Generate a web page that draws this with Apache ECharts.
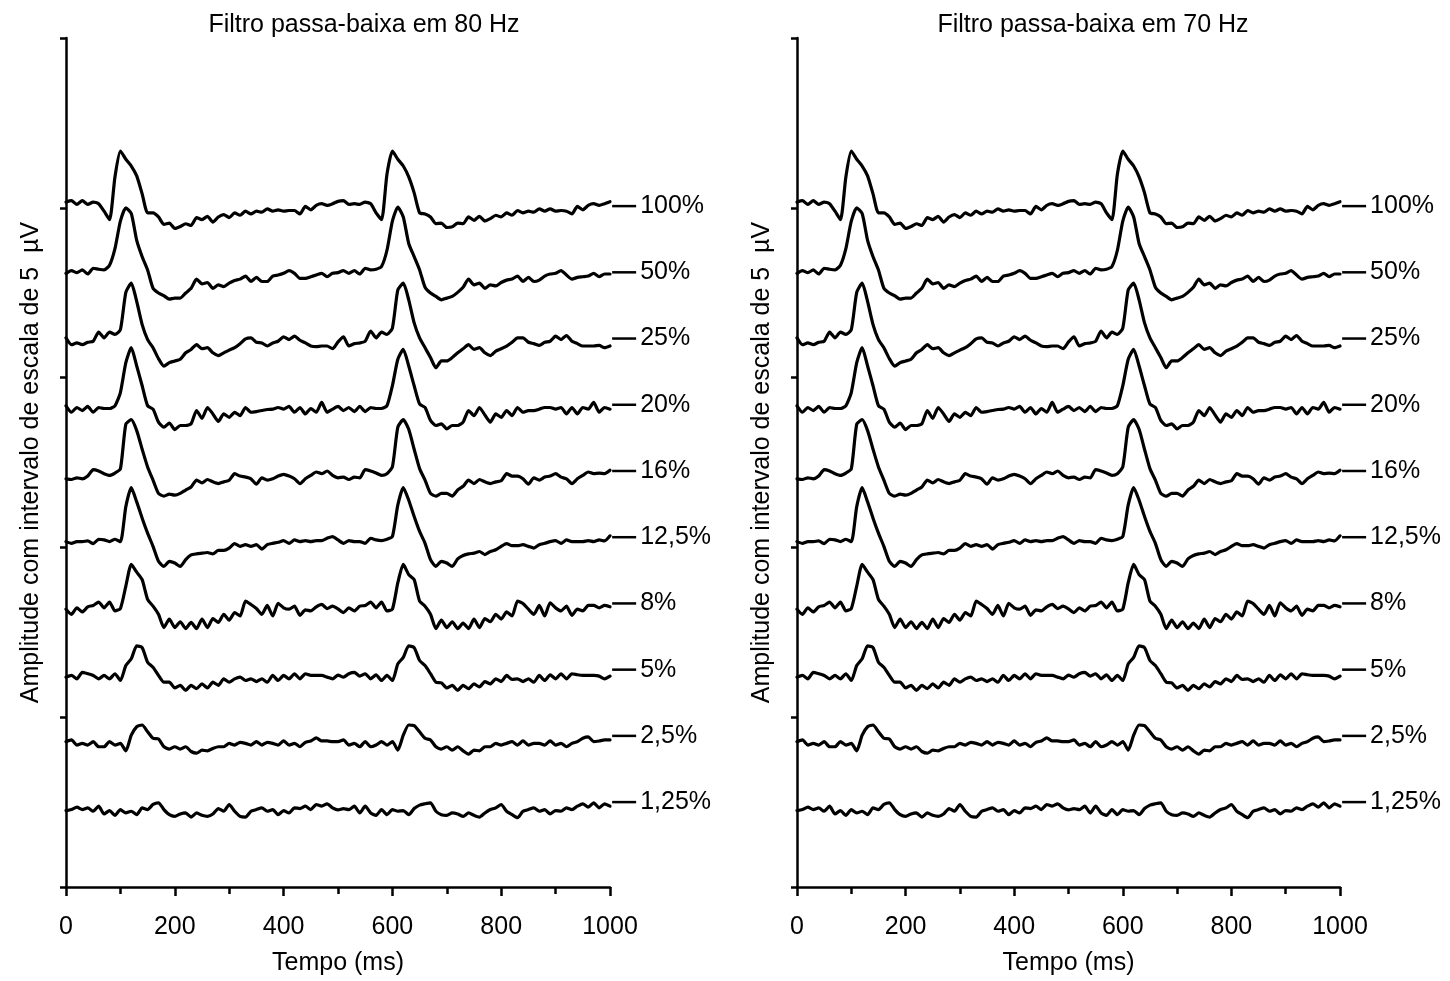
<!DOCTYPE html>
<html>
<head>
<meta charset="utf-8">
<title>Filtro passa-baixa</title>
<script src="https://cdn.jsdelivr.net/npm/echarts@6/dist/echarts.min.js"></script>
<style>
  html, body { margin: 0; padding: 0; background: #fff; }
  #main { width: 1450px; height: 981px; }
</style>
</head>
<body>
<div id="main"></div>
<script>
// Sampling grid of every averaged trace (ms)
const timeMs = Array.from({ length: 101 }, (_, i) => i * 10);

// Trace names (stimulus level) and vertical offset of each trace (µV)
const traceLabels = ['100%', '50%', '25%', '20%', '16%', '12,5%', '8%', '5%', '2,5%', '1,25%'];
const traceOffsets = [20.05, 18.1, 16.15, 14.2, 12.25, 10.3, 8.35, 6.4, 4.45, 2.5];

// Averaged responses, deviation from each trace's baseline (µV), one value per 10 ms
const amp100 = [
  0.12, 0.16, 0.05, 0.16, 0.05, 0.12, 0.07, -0.15, -0.40, 0.86,
  1.62, 1.38, 1.18, 0.89, 0.36, -0.20, -0.20, -0.32, -0.54, -0.50,
  -0.66, -0.60, -0.52, -0.57, -0.34, -0.40, -0.30, -0.47, -0.32, -0.25,
  -0.34, -0.20, -0.27, -0.15, -0.23, -0.15, -0.18, -0.08, -0.15, -0.11,
  -0.15, -0.13, -0.13, -0.23, -0.01, -0.11, 0.02, 0.07, 0.02, 0.07,
  0.14, 0.16, 0.05, 0.07, 0.05, 0.12, 0.07, -0.20, -0.40, 0.94,
  1.62, 1.38, 1.18, 0.86, 0.39, -0.20, -0.23, -0.32, -0.52, -0.50,
  -0.63, -0.61, -0.50, -0.52, -0.32, -0.42, -0.30, -0.44, -0.37, -0.27,
  -0.32, -0.20, -0.27, -0.13, -0.20, -0.15, -0.18, -0.08, -0.15, -0.08,
  -0.15, -0.13, -0.15, -0.23, -0.01, -0.11, 0.02, 0.07, 0.02, 0.07,
  0.13
];
const amp50 = [
  -0.03, 0.05, -0.01, 0.07, -0.05, 0.12, 0.09, 0.07, 0.21, 0.70,
  1.51, 1.90, 1.73, 0.94, 0.46, 0.07, -0.47, -0.61, -0.69, -0.79,
  -0.76, -0.76, -0.61, -0.47, -0.20, -0.34, -0.30, -0.47, -0.37, -0.42,
  -0.32, -0.24, -0.20, -0.11, -0.27, -0.15, -0.27, -0.27, -0.11, -0.08,
  -0.03, 0.05, -0.03, -0.18, -0.18, -0.13, -0.08, -0.03, -0.13, -0.03,
  -0.01, 0.05, -0.03, 0.05, -0.05, 0.12, 0.07, 0.09, 0.17, 0.65,
  1.51, 1.92, 1.63, 0.85, 0.46, 0.07, -0.44, -0.61, -0.71, -0.81,
  -0.76, -0.71, -0.59, -0.44, -0.20, -0.37, -0.32, -0.47, -0.37, -0.40,
  -0.30, -0.23, -0.20, -0.11, -0.27, -0.15, -0.27, -0.23, -0.11, -0.05,
  -0.03, 0.05, -0.08, -0.20, -0.15, -0.13, -0.11, -0.03, -0.13, -0.05,
  -0.05
];
const amp25 = [
  0.02, -0.18, -0.13, -0.18, -0.11, -0.08, 0.19, 0.02, 0.19, 0.12,
  0.26, 1.36, 1.63, 1.09, 0.41, -0.03, -0.27, -0.59, -0.81, -0.71,
  -0.66, -0.61, -0.42, -0.32, -0.18, -0.30, -0.27, -0.42, -0.50, -0.42,
  -0.34, -0.27, -0.15, -0.01, 0.02, -0.11, -0.13, -0.22, -0.13, -0.08,
  0.05, -0.03, 0.07, -0.05, -0.13, -0.22, -0.24, -0.22, -0.22, -0.30,
  -0.10, 0.05, -0.22, -0.15, -0.13, -0.08, 0.22, 0.02, 0.19, 0.12,
  0.31, 1.43, 1.63, 1.14, 0.46, 0.02, -0.27, -0.56, -0.86, -0.66,
  -0.66, -0.56, -0.42, -0.30, -0.18, -0.32, -0.27, -0.42, -0.50, -0.37,
  -0.30, -0.22, -0.11, 0.02, 0.02, -0.11, -0.15, -0.20, -0.11, -0.08,
  0.07, -0.03, 0.09, -0.08, -0.15, -0.22, -0.22, -0.22, -0.20, -0.27,
  -0.22
];
const amp20 = [
  -0.03, -0.22, -0.08, -0.17, -0.05, -0.22, -0.08, -0.11, -0.11, -0.03,
  0.36, 1.24, 1.68, 1.14, 0.56, -0.03, -0.13, -0.51, -0.66, -0.54,
  -0.73, -0.61, -0.61, -0.56, -0.17, -0.40, -0.08, -0.27, -0.49, -0.27,
  -0.37, -0.22, -0.32, -0.08, -0.22, -0.20, -0.17, -0.14, -0.13, -0.08,
  -0.13, -0.05, -0.22, -0.08, -0.27, -0.11, -0.22, 0.07, -0.22, -0.13,
  -0.05, -0.17, -0.08, -0.20, -0.05, -0.20, -0.08, -0.11, -0.11, -0.03,
  0.56, 1.34, 1.63, 1.14, 0.56, 0.02, -0.08, -0.46, -0.61, -0.56,
  -0.71, -0.61, -0.61, -0.51, -0.17, -0.32, -0.08, -0.30, -0.51, -0.27,
  -0.37, -0.17, -0.32, -0.08, -0.22, -0.17, -0.17, -0.13, -0.08, -0.08,
  -0.13, -0.08, -0.27, -0.08, -0.27, -0.08, -0.13, 0.07, -0.22, -0.08,
  -0.13
];
const amp16 = [
  -0.23, -0.25, -0.20, -0.23, -0.15, 0.04, 0.00, -0.08, -0.13, -0.06,
  0.06, 1.38, 1.51, 1.19, 0.64, 0.12, -0.27, -0.66, -0.74, -0.68,
  -0.71, -0.66, -0.56, -0.47, -0.27, -0.35, -0.25, -0.32, -0.37, -0.32,
  -0.27, -0.08, -0.15, -0.18, -0.23, -0.39, -0.20, -0.27, -0.23, -0.15,
  -0.10, -0.15, -0.23, -0.37, -0.23, -0.13, -0.03, -0.08, 0.00, -0.13,
  -0.20, -0.18, -0.25, -0.18, -0.20, 0.04, 0.00, -0.06, -0.13, -0.08,
  0.12, 1.29, 1.51, 1.23, 0.64, 0.07, -0.27, -0.66, -0.74, -0.66,
  -0.66, -0.74, -0.56, -0.45, -0.27, -0.37, -0.25, -0.32, -0.37, -0.32,
  -0.29, -0.08, -0.15, -0.15, -0.23, -0.39, -0.20, -0.27, -0.18, -0.15,
  -0.08, -0.18, -0.23, -0.37, -0.23, -0.13, -0.03, -0.08, -0.06, -0.08,
  0.02
];
const amp12_5 = [
  -0.13, -0.18, -0.13, -0.13, -0.11, -0.19, -0.06, -0.08, -0.13, -0.06,
  -0.13, 0.90, 1.46, 1.04, 0.56, 0.12, -0.27, -0.71, -0.86, -0.71,
  -0.76, -0.86, -0.66, -0.52, -0.49, -0.47, -0.45, -0.49, -0.39, -0.39,
  -0.32, -0.19, -0.27, -0.22, -0.27, -0.22, -0.35, -0.22, -0.18, -0.15,
  -0.10, -0.18, -0.08, -0.13, -0.10, -0.13, -0.10, -0.10, -0.03, 0.02,
  -0.08, -0.18, -0.10, -0.13, -0.13, -0.18, -0.03, -0.08, -0.10, -0.06,
  0.02, 0.95, 1.46, 1.09, 0.61, 0.17, -0.18, -0.66, -0.86, -0.71,
  -0.76, -0.86, -0.64, -0.54, -0.49, -0.47, -0.42, -0.51, -0.42, -0.37,
  -0.27, -0.19, -0.25, -0.25, -0.22, -0.27, -0.32, -0.22, -0.18, -0.13,
  -0.10, -0.18, -0.08, -0.13, -0.13, -0.13, -0.10, -0.13, -0.08, -0.11,
  0.04
];
const amp8 = [
  -0.17, -0.32, -0.13, -0.25, -0.10, -0.06, 0.04, -0.13, 0.04, -0.22,
  -0.15, 0.51, 1.15, 0.92, 0.70, 0.12, -0.08, -0.32, -0.71, -0.46,
  -0.71, -0.54, -0.74, -0.56, -0.74, -0.46, -0.71, -0.45, -0.56, -0.32,
  -0.49, -0.27, -0.37, 0.07, -0.03, -0.15, -0.32, -0.06, -0.37, 0.00,
  -0.13, -0.17, -0.08, -0.35, -0.19, -0.22, -0.10, -0.03, -0.15, -0.08,
  -0.16, -0.27, -0.13, -0.22, -0.08, -0.06, 0.04, -0.13, 0.04, -0.22,
  -0.17, 0.61, 1.15, 0.85, 0.70, 0.07, -0.08, -0.32, -0.74, -0.49,
  -0.71, -0.54, -0.74, -0.58, -0.74, -0.46, -0.71, -0.45, -0.54, -0.32,
  -0.46, -0.25, -0.37, 0.07, 0.00, -0.17, -0.32, -0.06, -0.37, 0.02,
  -0.13, -0.22, -0.08, -0.35, -0.17, -0.22, -0.06, -0.06, -0.13, -0.06,
  -0.10
];
const amp5 = [
  -0.22, -0.17, -0.27, -0.08, -0.12, -0.17, -0.27, -0.17, -0.27, -0.12,
  -0.32, 0.12, 0.32, 0.70, 0.65, 0.22, 0.07, -0.17, -0.37, -0.37,
  -0.54, -0.46, -0.61, -0.46, -0.56, -0.42, -0.54, -0.37, -0.46, -0.27,
  -0.37, -0.27, -0.22, -0.32, -0.27, -0.35, -0.27, -0.37, -0.17, -0.32,
  -0.17, -0.27, -0.12, -0.27, -0.12, -0.17, -0.17, -0.17, -0.22, -0.27,
  -0.16, -0.22, -0.12, -0.08, -0.19, -0.12, -0.27, -0.15, -0.32, -0.17,
  -0.32, 0.17, 0.36, 0.70, 0.65, 0.27, 0.12, -0.12, -0.37, -0.39,
  -0.54, -0.46, -0.61, -0.46, -0.56, -0.42, -0.51, -0.35, -0.42, -0.27,
  -0.35, -0.17, -0.29, -0.27, -0.35, -0.27, -0.37, -0.17, -0.32, -0.15,
  -0.27, -0.12, -0.27, -0.12, -0.15, -0.17, -0.17, -0.17, -0.19, -0.27,
  -0.19
];
const amp2_5 = [
  -0.17, -0.12, -0.27, -0.22, -0.27, -0.17, -0.32, -0.32, -0.17, -0.27,
  -0.22, -0.44, 0.02, 0.27, 0.32, 0.12, -0.07, -0.09, -0.32, -0.39,
  -0.32, -0.39, -0.32, -0.46, -0.51, -0.42, -0.44, -0.37, -0.32, -0.32,
  -0.22, -0.27, -0.19, -0.22, -0.27, -0.17, -0.27, -0.19, -0.22, -0.27,
  -0.15, -0.27, -0.22, -0.32, -0.19, -0.15, -0.06, -0.15, -0.15, -0.17,
  -0.17, -0.12, -0.27, -0.22, -0.32, -0.17, -0.32, -0.27, -0.17, -0.27,
  -0.17, -0.42, 0.02, 0.32, 0.30, 0.12, -0.07, -0.12, -0.32, -0.39,
  -0.32, -0.42, -0.32, -0.44, -0.54, -0.42, -0.44, -0.32, -0.32, -0.22,
  -0.27, -0.22, -0.17, -0.27, -0.15, -0.27, -0.22, -0.22, -0.27, -0.15,
  -0.27, -0.22, -0.32, -0.22, -0.17, -0.07, -0.03, -0.17, -0.15, -0.12,
  -0.12
];
const amp1_25 = [
  -0.25, -0.22, -0.15, -0.22, -0.17, -0.27, -0.12, -0.35, -0.25, -0.39,
  -0.22, -0.32, -0.27, -0.37, -0.17, -0.22, -0.07, -0.02, -0.22, -0.37,
  -0.42, -0.35, -0.32, -0.44, -0.32, -0.39, -0.42, -0.35, -0.19, -0.27,
  -0.07, -0.27, -0.42, -0.44, -0.27, -0.22, -0.17, -0.27, -0.22, -0.37,
  -0.25, -0.32, -0.17, -0.19, -0.12, -0.22, -0.07, -0.12, -0.05, -0.17,
  -0.23, -0.19, -0.22, -0.12, -0.32, -0.12, -0.32, -0.39, -0.22, -0.37,
  -0.22, -0.27, -0.25, -0.37, -0.19, -0.09, -0.05, -0.02, -0.27, -0.37,
  -0.39, -0.32, -0.35, -0.42, -0.32, -0.39, -0.44, -0.32, -0.22, -0.17,
  -0.07, -0.27, -0.37, -0.46, -0.27, -0.22, -0.17, -0.27, -0.22, -0.35,
  -0.25, -0.27, -0.17, -0.22, -0.12, -0.05, -0.15, -0.02, -0.17, -0.05,
  -0.12
];

// Both filter settings give traces that are indistinguishable at this scale
const traces80 = [amp100, amp50, amp25, amp20, amp16, amp12_5, amp8, amp5, amp2_5, amp1_25];
const traces70 = traces80;

const FONT = '"Liberation Sans", Arial, Helvetica, sans-serif';
const INK = '#000';
const TEXT_SIZE = 25;

const panels = [
  { title: 'Filtro passa-baixa em 80 Hz', traces: traces80, left: 66, width: 544, titleX: 359 },
  { title: 'Filtro passa-baixa em 70 Hz', traces: traces70, left: 797, width: 543, titleX: 1088 }
];

const chart = echarts.init(document.getElementById('main'), null, { renderer: 'canvas' });

const axisLineStyle = { color: INK, width: 2.5 };

const option = {
  backgroundColor: '#fff',
  animation: false,
  textStyle: { fontFamily: FONT, color: INK },
  title: panels.map(p => ({
    text: p.title,
    left: p.titleX,
    top: 8,
    textAlign: 'center',
    textStyle: { fontFamily: FONT, fontSize: TEXT_SIZE, fontWeight: 'normal', color: INK }
  })),
  grid: panels.map(p => ({ left: p.left, width: p.width, top: 38, height: 855, containLabel: false })),
  xAxis: panels.map((p, i) => ({
    type: 'value',
    gridIndex: i,
    min: 0,
    max: 1000,
    interval: 200,
    name: 'Tempo (ms)',
    nameLocation: 'middle',
    nameGap: 64,
    nameTextStyle: { fontFamily: FONT, fontSize: TEXT_SIZE, color: INK },
    axisLine: { show: true, onZero: false, lineStyle: axisLineStyle },
    axisTick: { show: true, inside: false, length: 9, lineStyle: axisLineStyle },
    minorTick: { show: true, splitNumber: 2, length: 7, lineStyle: axisLineStyle },
    axisLabel: { fontFamily: FONT, fontSize: TEXT_SIZE, color: INK, margin: 28, formatter: v => String(v) },
    splitLine: { show: false },
    minorSplitLine: { show: false }
  })),
  yAxis: panels.map((p, i) => ({
    type: 'value',
    gridIndex: i,
    min: 0,
    max: 25,
    interval: 5,
    name: 'Amplitude com intervalo de escala de 5  \u00B5V',
    nameLocation: 'middle',
    nameRotate: 90,
    nameGap: 22,
    nameTextStyle: { fontFamily: FONT, fontSize: TEXT_SIZE, color: INK },
    axisLine: { show: true, onZero: false, lineStyle: axisLineStyle },
    axisTick: { show: true, inside: false, length: 6, lineStyle: axisLineStyle },
    axisLabel: { show: false },
    splitLine: { show: false }
  })),
  series: []
};

panels.forEach((p, pi) => {
  p.traces.forEach((dev, k) => {
    option.series.push({
      type: 'line',
      name: p.title + ' ' + traceLabels[k],
      xAxisIndex: pi,
      yAxisIndex: pi,
      showSymbol: false,
      symbol: 'none',
      silent: true,
      smooth: 0.2,
      lineStyle: { color: INK, width: 3.2, join: 'round', cap: 'round' },
      data: dev.map((v, j) => [timeMs[j], v + traceOffsets[k]])
    });
  });
  // level markers with the stimulus percentage beside each trace
  option.series.push({
    type: 'scatter',
    xAxisIndex: pi,
    yAxisIndex: pi,
    clip: false,
    silent: true,
    symbol: 'rect',
    symbolSize: [24, 2.5],
    itemStyle: { color: INK, opacity: 1 },
    label: {
      show: true,
      position: 'right',
      distance: 4,
      formatter: q => q.name,
      fontFamily: FONT,
      fontSize: TEXT_SIZE,
      color: INK,
      opacity: 1
    },
    data: traceOffsets.map((o, k) => ({ name: traceLabels[k], value: [1026, o] }))
  });
});

chart.setOption(option);
</script>
</body>
</html>
